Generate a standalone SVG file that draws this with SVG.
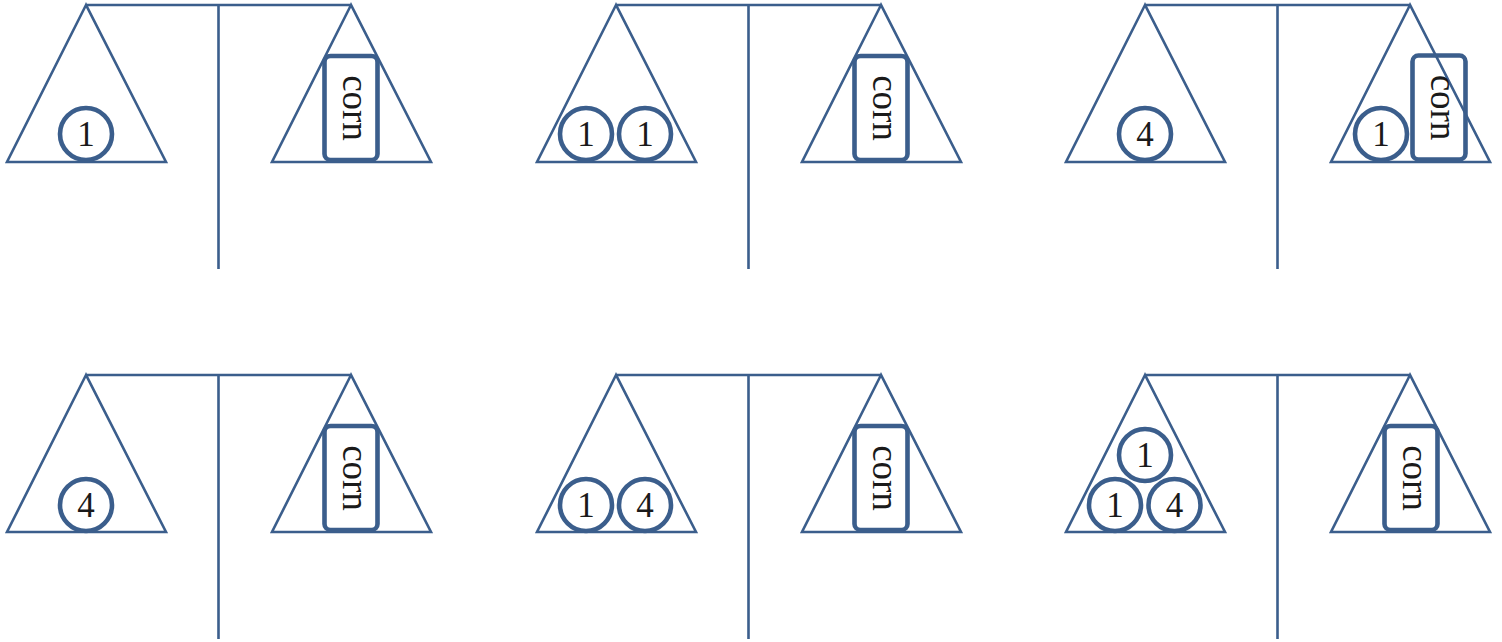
<svg xmlns="http://www.w3.org/2000/svg" xmlns:xlink="http://www.w3.org/1999/xlink" width="1502" height="642" viewBox="0 0 1502 642">
<style>
.ln{fill:none;stroke:#3b5e8c;stroke-width:2.6;stroke-linejoin:miter}
.wt{fill:none;stroke:#3b5e8c;stroke-width:4.6}
.num{font-family:"Liberation Serif","DejaVu Serif",serif;font-size:35px;fill:#1a1a1a;text-anchor:middle}
.crn{font-family:"Liberation Serif","DejaVu Serif",serif;font-size:37px;fill:#1a1a1a;text-anchor:middle}
</style>
<defs>
<g id="frame">
<path class="ln" d="M86,5 H351 M218.5,5 V269 M86,5 L7,162 H166 Z M351,5 L272,162 H431 Z"/>
</g>
<g id="corn">
<rect class="wt" x="-26.5" y="-52" width="53" height="104" rx="6"/>
<text class="crn" transform="rotate(90)" x="0" y="8.5">corn</text>
</g>
</defs>
<g id="connectors">
<use id="balance1" xlink:href="#frame"/>
<use id="balance2" xlink:href="#frame" transform="translate(530,0)"/>
<use id="balance3" xlink:href="#frame" transform="translate(1059,0)"/>
<use id="balance4" xlink:href="#frame" transform="translate(0,370)"/>
<use id="balance5" xlink:href="#frame" transform="translate(530,370)"/>
<use id="balance6" xlink:href="#frame" transform="translate(1059,370)"/>
</g>
<!-- row 1 -->
<g id="w1a"><circle class="wt" cx="86" cy="134" r="26"/><text class="num" x="86" y="146">1</text></g>
<g id="c1" transform="translate(351,108)"><use xlink:href="#corn"/></g>
<g id="w2a"><circle class="wt" cx="586" cy="134" r="26"/><text class="num" x="586" y="146">1</text></g>
<g id="w2b"><circle class="wt" cx="645" cy="134" r="26"/><text class="num" x="645" y="146">1</text></g>
<g id="c2" transform="translate(881,108)"><use xlink:href="#corn"/></g>
<g id="w3a"><circle class="wt" cx="1145" cy="134" r="26"/><text class="num" x="1145" y="146">4</text></g>
<g id="w3b"><circle class="wt" cx="1381" cy="134" r="26"/><text class="num" x="1381" y="146">1</text></g>
<g id="c3" transform="translate(1439,107.5)"><use xlink:href="#corn"/></g>
<!-- row 2 -->
<g id="w4a"><circle class="wt" cx="86" cy="505" r="26"/><text class="num" x="86" y="517">4</text></g>
<g id="c4" transform="translate(351,478)"><use xlink:href="#corn"/></g>
<g id="w5a"><circle class="wt" cx="586" cy="505" r="26"/><text class="num" x="586" y="517">1</text></g>
<g id="w5b"><circle class="wt" cx="645" cy="505" r="26"/><text class="num" x="645" y="517">4</text></g>
<g id="c5" transform="translate(881,478)"><use xlink:href="#corn"/></g>
<g id="w6a"><circle class="wt" cx="1115" cy="505" r="26"/><text class="num" x="1115" y="517">1</text></g>
<g id="w6b"><circle class="wt" cx="1174.5" cy="505" r="26"/><text class="num" x="1174.5" y="517">4</text></g>
<g id="w6c"><circle class="wt" cx="1145" cy="455" r="26"/><text class="num" x="1145" y="467">1</text></g>
<g id="c6" transform="translate(1411,478)"><use xlink:href="#corn"/></g>
</svg>
